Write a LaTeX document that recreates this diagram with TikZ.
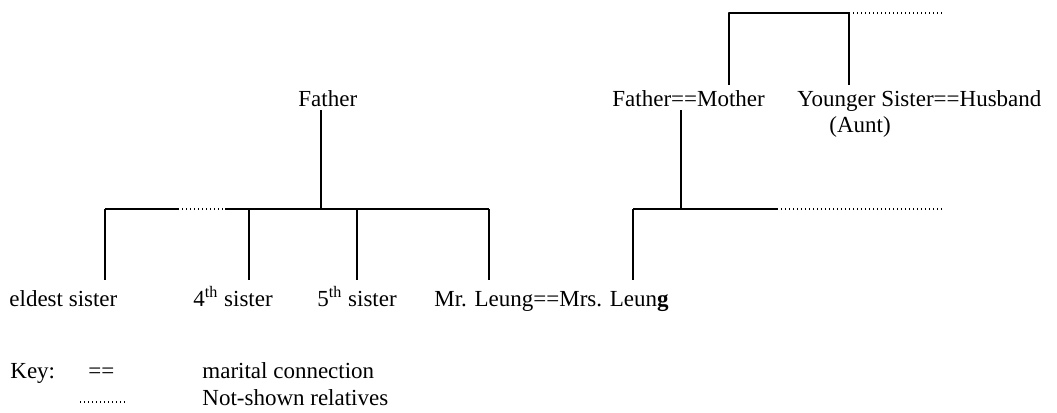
\documentclass[tikz,border=0pt]{standalone}
\usepackage{fontspec}
\setmainfont{Liberation Serif}
\tikzset{lbl/.style={inner sep=0pt, anchor=base west, text height=8pt, text depth=0pt},
	tie/.style={line width=0.9pt},
	kin/.style={line width=0.6pt, dash pattern=on 0.6pt off 1.4pt}}
\begin{document}
\begin{tikzpicture}[x=0.5pt, y=-0.5pt, font=\fontsize{11.5}{14}\selectfont, line join=round]
		\useasboundingbox (0,0) rectangle (1057,413);
		% nhãn
		\node[lbl] (fa) at (298,106) {Father};
		\node[lbl] (fm) at (612,106) {Father==Mother};
		\node[lbl] (ys) at (797,106) {Younger Sister==Husband};
		\node[inner sep=0pt, anchor=base] (aunt) at (860,132) {(Aunt)};
		\node[lbl] (es) at (9,306) {eldest sister};
		\node[lbl] (s4) at (193,306) {4\textsuperscript{th} sister};
		\node[lbl] (s5) at (317,306) {5\textsuperscript{th} sister};
		\node[lbl] (ml) at (434,306) {Mr. Leung==Mrs. Leun\textbf{g}};
		% thanh ngang
		\coordinate (lb) at (321,209); \coordinate (e) at (105,209);
		\coordinate (d1) at (178,209); \coordinate (d2) at (225,209);
		\coordinate (s4b) at (249,209); \coordinate (s5b) at (357,209); \coordinate (m) at (489,209);
		\coordinate (rb) at (681,209); \coordinate (w) at (633,209);
		\coordinate (rd) at (777,209); \coordinate (re) at (942,209);
		\coordinate (mo) at (729,13); \coordinate (ysb) at (849,13); \coordinate (tr) at (943,13);
		\draw[tie, shorten <=2pt] (lb |- fa.south) -- (lb);
		\draw[tie] (e) -- (d1) (d2) -- (m);
		\draw[kin] (d1) -- (d2);
		\foreach \c/\n in {e/es, s4b/s4, s5b/s5, m/ml} \draw[tie, shorten >=5pt] (\c) -- (\c |- \n.north);
		\draw[tie, shorten <=2pt] (rb |- fm.south) -- (rb);
		\draw[tie] (w) -- (rd);
		\draw[kin] (rd) -- (re);
		\draw[tie, shorten >=5pt] (w) -- (w |- ml.north);
		\draw[tie, shorten <=2.5pt, shorten >=2.5pt] (mo |- fm.north) -- (mo) -- (ysb) -- (ysb |- ys.north);
		\draw[kin] (ysb) -- (tr);
		% chú thích
		\node[lbl] (key) at (10,378) {Key:};
		\node[lbl] (eq) at (88,378) {==};
		\node[lbl] (kmc) at (202,378) {marital connection};
		\node[lbl] (kns) at (202,405) {Not-shown relatives};
		\coordinate (k1) at (80,402); \coordinate (k2) at (126,402);
		\draw[kin] (k1) -- (k2);
\end{tikzpicture}
\end{document}
